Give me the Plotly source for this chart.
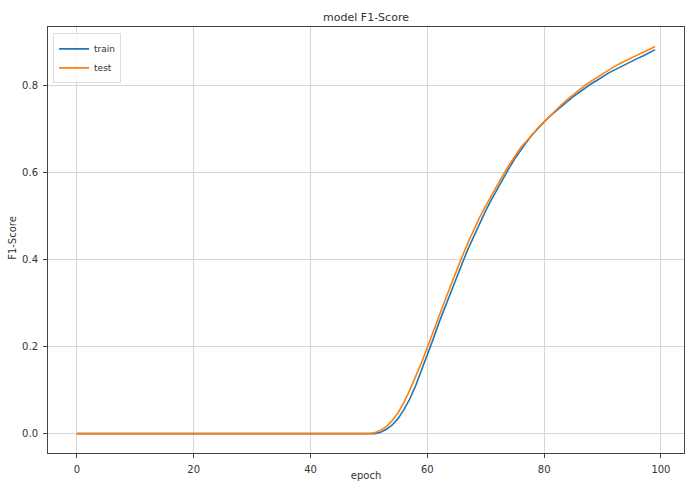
import plotly.graph_objects as go

epochs = list(range(100))

train_f1 = [0.0] * 51 + [
    0.0, 0.003, 0.01, 0.02, 0.035, 0.055, 0.08, 0.11, 0.145,
    0.18, 0.217, 0.255, 0.29, 0.325, 0.36, 0.392, 0.425, 0.455, 0.485,
    0.512, 0.538, 0.563, 0.586, 0.61, 0.632, 0.652, 0.67, 0.687, 0.702,
    0.716, 0.729, 0.741, 0.752, 0.763, 0.774, 0.784, 0.794, 0.803, 0.811,
    0.82, 0.828, 0.835, 0.842, 0.849, 0.855, 0.862, 0.868, 0.875, 0.882,
]

test_f1 = [0.0] * 51 + [
    0.002, 0.008, 0.016, 0.03, 0.048, 0.072, 0.10, 0.13, 0.163,
    0.198, 0.235, 0.27, 0.305, 0.34, 0.375, 0.408, 0.44, 0.47, 0.498,
    0.523, 0.548, 0.572, 0.595, 0.617, 0.638, 0.657, 0.672, 0.688, 0.703,
    0.716, 0.73, 0.743, 0.756, 0.768, 0.779, 0.79, 0.8, 0.809, 0.818,
    0.827, 0.836, 0.843, 0.85, 0.857, 0.864, 0.87, 0.876, 0.882, 0.889,
]

x_ticks = [0, 20, 40, 60, 80, 100]
y_ticks = [0.0, 0.2, 0.4, 0.6, 0.8]

fig = go.Figure()
fig.add_trace(go.Scatter(x=epochs, y=train_f1, mode="lines", name="train",
                         line=dict(color="#1f77b4", width=1.6)))
fig.add_trace(go.Scatter(x=epochs, y=test_f1, mode="lines", name="test",
                         line=dict(color="#ff7f0e", width=1.6)))

font_family = "DejaVu Sans"
axis_common = dict(
    showgrid=True, gridcolor="#d6d6d6", gridwidth=1,
    showline=True, linecolor="#444444", linewidth=1, mirror=True,
    ticks="outside", ticklen=4, tickcolor="#444444",
    automargin=False,
    tickfont=dict(family=font_family, size=10, color="#333333"),
    zeroline=False,
)

fig.update_layout(
    width=688, height=481,
    margin=dict(l=48, r=4, t=27, b=28),
    paper_bgcolor="white", plot_bgcolor="white",
    title=dict(text="model F1-Score", x=0.532, xanchor="center", y=0.965, yanchor="middle",
               font=dict(family=font_family, size=11, color="#333333")),
    xaxis=dict(range=[-4.95, 103.95], tickvals=x_ticks, ticklabelstandoff=3,
               title=dict(text="epoch", standoff=6,
                          font=dict(family=font_family, size=10, color="#333333")),
               **axis_common),
    yaxis=dict(range=[-0.0445, 0.934], tickvals=y_ticks, tickformat=".1f",
               ticklabelstandoff=3,
               **axis_common),
    annotations=[dict(text="F1-Score", textangle=-90, xref="paper", yref="paper",
                      x=0, y=0.505, xanchor="center", yanchor="middle", xshift=-35,
                      showarrow=False,
                      font=dict(family=font_family, size=10, color="#333333"))],
    legend=dict(x=0.008, y=0.985, xanchor="left", yanchor="top",
                bgcolor="rgba(255,255,255,0.8)", bordercolor="#dddddd", borderwidth=1,
                font=dict(family=font_family, size=9, color="#333333"),
                itemwidth=30, tracegroupgap=0),
    showlegend=True,
)

fig.write_html("out.html")
